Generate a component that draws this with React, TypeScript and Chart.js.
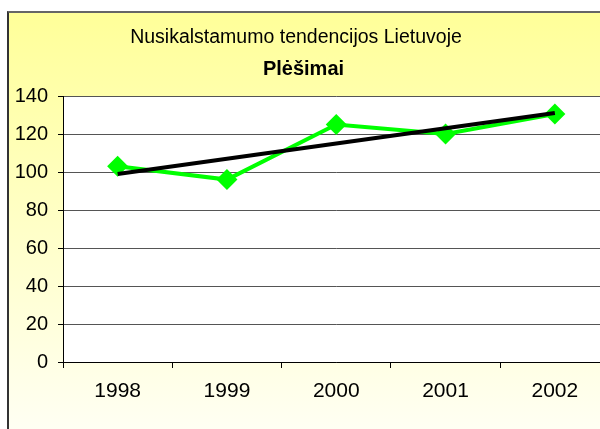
import React, { useEffect, useRef } from "react";
import { Chart, registerables } from "chart.js";

Chart.register(...registerables);

const years = ["1998", "1999", "2000", "2001", "2002"];
const robberies = [103, 96, 125, 120, 130.5];
const trend = [99, null, null, null, 131];
const yTicks = [0, 20, 40, 60, 80, 100, 120, 140];
const titleLine1 = "Nusikalstamumo tendencijos Lietuvoje";
const titleLine2 = "Plėšimai";

const FONT = "'Liberation Sans', Arial, sans-serif";

const plotBg = {
  id: "plotBg",
  beforeDraw(chart: any) {
    const { ctx, chartArea } = chart;
    ctx.save();
    ctx.fillStyle = "#ffffff";
    ctx.fillRect(chartArea.left, chartArea.top, chartArea.right - chartArea.left, chartArea.bottom - chartArea.top);
    ctx.restore();
  },
};

// Center the title lines where the reference has them (not at canvas centre)
const titleCenter = {
  id: "titleCenter",
  afterLayout(chart: any) {
    for (const box of chart.boxes) {
      const t = box && box.options && box.options.text;
      if (t === titleLine1) {
        box.left = 0;
        box.right = 574;
      } else if (t === titleLine2) {
        box.left = 0;
        box.right = 589;
      }
    }
  },
};

export default function App() {
  const ref = useRef<HTMLCanvasElement>(null);

  useEffect(() => {
    if (!ref.current) return;
    const chart = new Chart(ref.current, {
      type: "line",
      data: {
        labels: years,
        datasets: [
          {
            label: "Trend",
            data: trend,
            borderColor: "#000000",
            borderWidth: 4,
            pointRadius: 0,
            spanGaps: true,
            order: 0,
          },
          {
            label: titleLine2,
            data: robberies,
            borderColor: "#00ff00",
            backgroundColor: "#00ff00",
            borderWidth: 4,
            pointStyle: "rectRot",
            pointRadius: 10.5,
            pointBorderWidth: 0,
            pointBackgroundColor: "#00ff00",
            pointBorderColor: "#00ff00",
            order: 1,
          },
        ],
      },
      options: {
        responsive: false,
        animation: false,
        layout: { padding: { left: 0, right: 19.5, top: 0, bottom: 39 } },
        plugins: {
          legend: { display: false },
          tooltip: { enabled: false },
          title: {
            display: true,
            text: titleLine1,
            color: "#000",
            font: { family: FONT, size: 19.5, weight: "normal" },
            padding: { top: 13.3, bottom: 7.3 },
          },
          subtitle: {
            display: true,
            text: titleLine2,
            color: "#000",
            font: { family: FONT, size: 20, weight: "bold" },
            padding: { top: 0, bottom: 15 },
          },
        },
        scales: {
          x: {
            offset: true,
            grid: {
              offset: true,
              drawOnChartArea: false,
              drawTicks: true,
              tickLength: 6,
              color: "#000",
            },
            border: { display: true, color: "#000", width: 1 },
            ticks: {
              color: "#000",
              font: { family: FONT, size: 21 },
              padding: 11,
              maxRotation: 0,
            },
            afterFit: (s: any) => {
              s.height = 42;
            },
          },
          y: {
            min: 0,
            max: 140,
            afterBuildTicks: (s: any) => {
              s.ticks = yTicks.map((v) => ({ value: v }));
            },
            grid: {
              color: "#555",
              drawTicks: true,
              tickLength: 5,
              tickColor: "#000",
            },
            border: { display: true, color: "#000", width: 1 },
            ticks: {
              color: "#000",
              font: { family: FONT, size: 20 },
              padding: 10,
            },
            afterFit: (s: any) => {
              s.width = 54;
            },
          },
        },
      },
      plugins: [plotBg, titleCenter],
    });
    return () => chart.destroy();
  }, []);

  return (
    <div style={{ position: "fixed", left: 0, top: 0, width: 600, height: 429, overflow: "hidden", background: "#fff" }}>
      <div
        style={{
          position: "absolute",
          left: 7,
          top: 11,
          width: 660,
          height: 440,
          borderLeft: "2px solid #333",
          borderTop: "2px solid #666",
          background: "linear-gradient(to bottom, #ffff99 0%, #fffff8 100%)",
        }}
      >
        <canvas ref={ref} width={620} height={430} style={{ display: "block", width: 620, height: 430 }} />
      </div>
    </div>
  );
}
